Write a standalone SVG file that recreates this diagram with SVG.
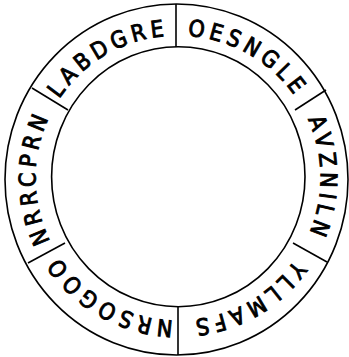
<svg xmlns="http://www.w3.org/2000/svg" width="349" height="357" viewBox="0 0 349 357">
<style>
.ln{fill:none;stroke:#000;stroke-width:1.6}
.t{font-family:"DejaVu Sans Condensed","DejaVu Sans",sans-serif;font-stretch:condensed;font-size:23px;letter-spacing:4.5px;fill:#000;stroke:#000;stroke-width:0.9}
</style>
<defs>
<path id="p1" d="M54.42,106.75 A142.5,142.5 0 0 1 178,35.5"/>
<path id="p2" d="M178,35.5 A142.5,142.5 0 0 1 301.41,106.75"/>
<path id="p3" d="M301.41,106.75 A142.5,142.5 0 0 1 301.41,249.25"/>
<path id="p4" d="M301.41,249.25 A142.5,142.5 0 0 1 178,320.5"/>
<path id="p5" d="M178,320.5 A142.5,142.5 0 0 1 54.59,249.25"/>
<path id="p6" d="M54.59,249.25 A142.5,142.5 0 0 1 54.59,106.75"/>
</defs>
<rect width="349" height="357" fill="#fff"/>
<g id="ring">
<ellipse class="ln" cx="176.5" cy="179.5" rx="171.5" ry="175.5"/>
<ellipse class="ln" cx="178.3" cy="176.7" rx="126.7" ry="130"/>
</g>
<g id="connectors">
<line class="ln" x1="176" y1="4" x2="176" y2="47"/>
<line class="ln" x1="295" y1="110" x2="326" y2="90"/>
<line class="ln" x1="293" y1="243" x2="327" y2="262"/>
<line class="ln" x1="178" y1="307" x2="178" y2="355"/>
<line class="ln" x1="65" y1="243" x2="28" y2="263"/>
<line class="ln" x1="68" y1="110" x2="32" y2="88"/>
</g>
<g id="seg1"><text class="t" text-anchor="middle"><textPath href="#p1" startOffset="50%">LABDGRE</textPath></text></g>
<g id="seg2"><text class="t" text-anchor="middle"><textPath href="#p2" startOffset="50%">OESNGLE</textPath></text></g>
<g id="seg3"><text class="t" text-anchor="middle"><textPath href="#p3" startOffset="50%">AVZNILN</textPath></text></g>
<g id="seg4"><text class="t" text-anchor="middle"><textPath href="#p4" startOffset="50%">YLLMAFS</textPath></text></g>
<g id="seg5"><text class="t" text-anchor="middle"><textPath href="#p5" startOffset="50%">NRSOGOO</textPath></text></g>
<g id="seg6"><text class="t" text-anchor="middle"><textPath href="#p6" startOffset="50%">NRRCPRN</textPath></text></g>
</svg>
